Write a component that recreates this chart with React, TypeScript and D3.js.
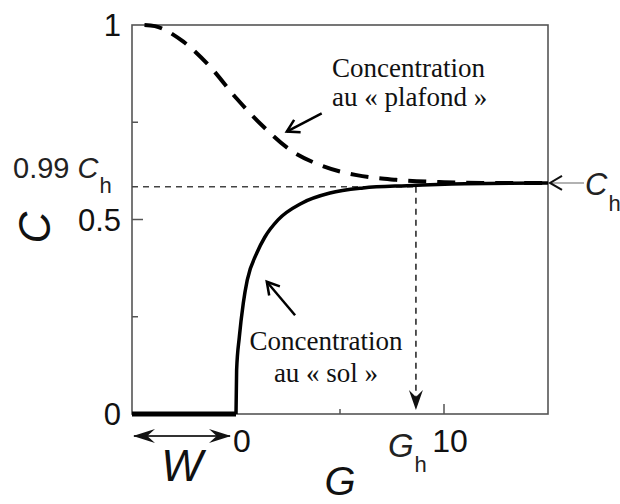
import React from "react";
import * as d3 from "d3";

// ground ("sol") concentration curve
const solG = [-5, 0, 0.03, 0.16, 0.35, 0.54, 1.0, 1.39, 2.02, 3.16, 4.52, 6.11, 8.21, 11, 15];
const solC = [0, 0, 0.113, 0.198, 0.285, 0.344, 0.414, 0.455, 0.499, 0.542, 0.568, 0.581, 0.587, 0.592, 0.594];

// ceiling ("plafond") concentration curve
const plafondG = [-4.4, -3.9, -2.53, -1.25, 0.03, 1.31, 2.6, 4.04, 5.8, 7.7, 10, 12, 15];
const plafondC = [1, 0.997, 0.957, 0.893, 0.811, 0.739, 0.679, 0.64, 0.614, 0.602, 0.596, 0.594, 0.594];

const Ch = 0.594;
const Ch99 = 0.584;
const Gh = 8.65;
const W = 5;

const yMinorTicks = [0.25, 0.75];
const yMajorTicks = [0, 0.5, 1];
const yTickLabels = ["0", "0.5", "1"];
const xMinorTicks = [5];
const xMajorTicks = [10];

const width = 620;
const height = 504;
const margin = { top: 25, right: 72, bottom: 90, left: 132 };

const sans = "'Liberation Sans', Arial, sans-serif";
const serif = "'Liberation Serif', 'Times New Roman', serif";

// open chevron head at (tx,ty) pointing away from (fx,fy)
function chevron(fx: number, fy: number, tx: number, ty: number, len = 11, half = 6) {
  const a = Math.atan2(ty - fy, tx - fx);
  const bx = tx - len * Math.cos(a);
  const by = ty - len * Math.sin(a);
  const px = -Math.sin(a) * half;
  const py = Math.cos(a) * half;
  return `M${bx + px},${by + py}L${tx},${ty}L${bx - px},${by - py}`;
}

// filled barbed head
function barb(fx: number, fy: number, tx: number, ty: number, len = 20, half = 7) {
  const a = Math.atan2(ty - fy, tx - fx);
  const cx = Math.cos(a);
  const sy = Math.sin(a);
  const bx = tx - len * cx;
  const by = ty - len * sy;
  const nx = tx - len * 0.65 * cx;
  const ny = ty - len * 0.65 * sy;
  const px = -sy * half;
  const py = cx * half;
  return `M${tx},${ty}L${bx + px},${by + py}L${nx},${ny}L${bx - px},${by - py}Z`;
}

export default function App() {
  const x = d3
    .scaleLinear()
    .domain([-W, 15])
    .range([margin.left, width - margin.right]);
  const y = d3
    .scaleLinear()
    .domain([0, 1])
    .range([height - margin.bottom, margin.top]);

  const line = d3
    .line<[number, number]>()
    .x((d) => x(d[0]))
    .y((d) => y(d[1]))
    .curve(d3.curveMonotoneX);

  const solPts = solG.slice(1).map((g, i) => [g, solC[i + 1]] as [number, number]);
  const plafondPts = plafondG.map((g, i) => [g, plafondC[i]] as [number, number]);

  const x0 = x.range()[0];
  const x1 = x.range()[1];
  const y0 = y.range()[0];
  const y1 = y.range()[1];

  // annotation arrows (data units)
  const plafArrow = { from: [4.12, 0.773], to: [2.44, 0.726] };
  const solArrow = { from: [2.84, 0.254], to: [1.48, 0.34] };

  const axisColor = "#555";

  return (
    <svg
      width={width}
      height={height}
      style={{ position: "absolute", left: 0, top: 0, background: "#fff" }}
    >
      {/* frame */}
      <rect
        x={x0}
        y={y1}
        width={x1 - x0}
        height={y0 - y1}
        fill="none"
        stroke={axisColor}
        strokeWidth={1.6}
      />

      {/* y ticks */}
      {yMinorTicks.map((t) => (
        <line key={"ym" + t} x1={x0} x2={x0 + 6} y1={y(t)} y2={y(t)} stroke={axisColor} strokeWidth={1.5} />
      ))}
      <line x1={x0} x2={x0 + 11} y1={y(0.5)} y2={y(0.5)} stroke={axisColor} strokeWidth={1.5} />
      {yMajorTicks.map((t, i) => (
        <text
          key={"yl" + t}
          x={x0 - 11}
          y={y(t) + 11}
          textAnchor="end"
          fontFamily={sans}
          fontSize={31}
          fill="#111"
        >
          {yTickLabels[i]}
        </text>
      ))}

      {/* x ticks */}
      {xMinorTicks.map((t) => (
        <line key={"xm" + t} x1={x(t)} x2={x(t)} y1={y0} y2={y0 - 5} stroke={axisColor} strokeWidth={1.5} />
      ))}
      {xMajorTicks.map((t) => (
        <g key={"xM" + t}>
          <line x1={x(t)} x2={x(t)} y1={y0} y2={y0 - 10} stroke={axisColor} strokeWidth={1.5} />
          <text x={x(t) + 6} y={y0 + 38} textAnchor="middle" fontFamily={sans} fontSize={32} fill="#111">
            {t}
          </text>
        </g>
      ))}
      <text x={x(0) - 3} y={y0 + 38} textAnchor="start" fontFamily={sans} fontSize={32} fill="#111">
        0
      </text>

      {/* axis titles */}
      <text
        x={(x0 + x1) / 2}
        y={height - 9}
        textAnchor="middle"
        fontFamily={sans}
        fontStyle="italic"
        fontSize={40}
        fill="#111"
      >
        G
      </text>
      <text
        transform={`translate(50,${(y0 + y1) / 2 + 8}) rotate(-90)`}
        textAnchor="middle"
        fontFamily={sans}
        fontStyle="italic"
        fontSize={44}
        fill="#111"
      >
        C
      </text>

      {/* 0.99 Ch reference and Gh drop line */}
      <line
        x1={x0}
        x2={x(Gh)}
        y1={y(Ch99)}
        y2={y(Ch99)}
        stroke="#444"
        strokeWidth={1.6}
        strokeDasharray="6,5"
      />
      <line
        x1={x(Gh)}
        x2={x(Gh)}
        y1={y(Ch99)}
        y2={y0 - 12}
        stroke="#444"
        strokeWidth={1.8}
        strokeDasharray="6,5"
      />
      <path d={barb(x(Gh), y(Ch99), x(Gh), y0 - 4)} fill="#111" />

      <text x={13} y={y(Ch99) - 9} fontFamily={sans} fontSize={29} fill="#222">
        0.99{" "}
        <tspan fontStyle="italic">C</tspan>
        <tspan fontSize={22} dx={1} dy={15}>h</tspan>
      </text>

      {/* curves */}
      <line x1={x(solG[0])} x2={x(solG[1])} y1={y(solC[0])} y2={y(solC[1])} stroke="#000" strokeWidth={5} />
      <path d={line(solPts) ?? ""} fill="none" stroke="#000" strokeWidth={3.5} />
      <path
        d={line(plafondPts) ?? ""}
        fill="none"
        stroke="#000"
        strokeWidth={4}
        strokeDasharray="18,11"
      />

      {/* Ch arrow on the right */}
      <line x1={x1 + 36} x2={x1 + 2} y1={y(Ch)} y2={y(Ch)} stroke="#999" strokeWidth={1.5} />
      <path
        d={chevron(x1 + 36, y(Ch), x1 + 2, y(Ch), 12, 7)}
        fill="none"
        stroke="#111"
        strokeWidth={2}
      />
      <text x={x1 + 37} y={y(Ch) + 12} fontFamily={sans} fontSize={31} fill="#222">
        <tspan fontStyle="italic">C</tspan>
        <tspan fontSize={22} dx={1} dy={16}>h</tspan>
      </text>

      {/* Gh label */}
      <text x={x(Gh) - 28} y={y0 + 43} fontFamily={sans} fontSize={33} fill="#222">
        <tspan fontStyle="italic">G</tspan>
        <tspan fontSize={22} dx={1} dy={15}>h</tspan>
      </text>

      {/* W double arrow */}
      <line x1={x0 + 2} x2={x(0) - 6} y1={y0 + 22} y2={y0 + 22} stroke="#333" strokeWidth={1.8} />
      <path d={barb(x0 + 30, y0 + 22, x0 + 1, y0 + 22, 22, 7)} fill="#111" />
      <path d={barb(x(0) - 30, y0 + 22, x(0) - 5, y0 + 22, 22, 7)} fill="#111" />
      <text
        x={(x0 + x(0)) / 2 - 2}
        y={y0 + 67}
        textAnchor="middle"
        fontFamily={sans}
        fontStyle="italic"
        fontSize={44}
        fill="#111"
      >
        W
      </text>

      {/* annotations */}
      <line
        x1={x(plafArrow.from[0])}
        y1={y(plafArrow.from[1])}
        x2={x(plafArrow.to[0])}
        y2={y(plafArrow.to[1])}
        stroke="#000"
        strokeWidth={2.5}
      />
      <path
        d={chevron(x(plafArrow.from[0]), y(plafArrow.from[1]), x(plafArrow.to[0]), y(plafArrow.to[1]), 12, 7)}
        fill="none"
        stroke="#000"
        strokeWidth={2.5}
      />
      <text fontFamily={serif} fontSize={27} fill="#111">
        <tspan x={332} y={77}>Concentration</tspan>
        <tspan x={332} y={106}>au « plafond »</tspan>
      </text>

      <line
        x1={x(solArrow.from[0])}
        y1={y(solArrow.from[1])}
        x2={x(solArrow.to[0])}
        y2={y(solArrow.to[1])}
        stroke="#000"
        strokeWidth={2.5}
      />
      <path
        d={chevron(x(solArrow.from[0]), y(solArrow.from[1]), x(solArrow.to[0]), y(solArrow.to[1]), 12, 7)}
        fill="none"
        stroke="#000"
        strokeWidth={2.5}
      />
      <text fontFamily={serif} fontSize={27} fill="#111" textAnchor="middle">
        <tspan x={326} y={350}>Concentration</tspan>
        <tspan x={326} y={382}>au « sol »</tspan>
      </text>
    </svg>
  );
}
